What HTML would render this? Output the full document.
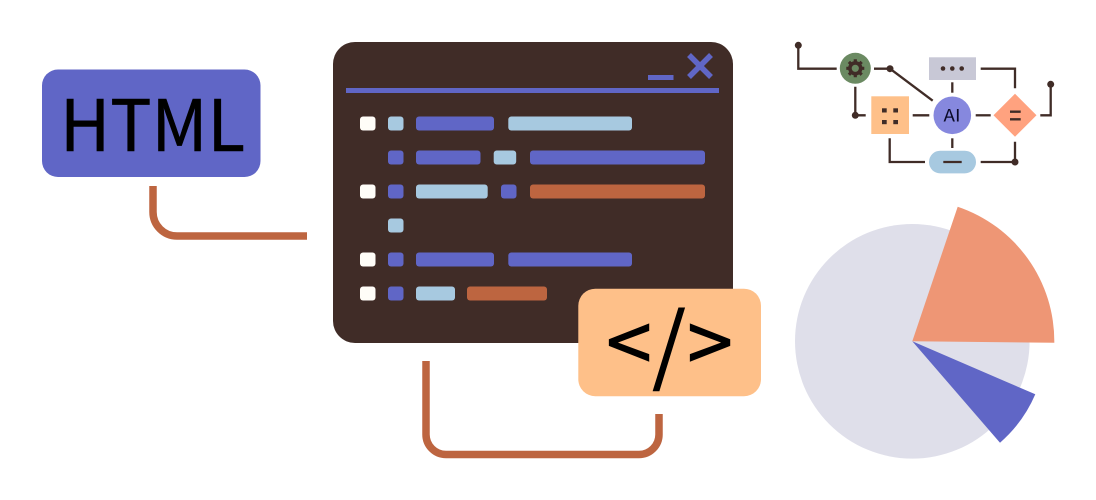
<!DOCTYPE html>
<html><head><meta charset="utf-8"><style>
html,body{margin:0;padding:0;background:#fff}
svg{display:block}
</style></head><body>
<svg width="1096" height="500" viewBox="0 0 1096 500" xmlns="http://www.w3.org/2000/svg">
<!-- HTML box -->
<path d="M153 186V212A24 24 0 0 0 177 236H307" fill="none" stroke="#bd6540" stroke-width="7.500"/>
<rect x="42" y="69.500" width="218.500" height="107.500" rx="16" fill="#6066c6"/>
<text x="60" y="151" font-family="'Noto Sans CJK JP','DejaVu Sans',sans-serif" font-size="71" fill="#000" stroke="#000" stroke-width="0.600" textLength="185" lengthAdjust="spacingAndGlyphs">HTML</text>
<!-- Window -->
<rect x="333" y="42" width="400" height="301" rx="22" fill="#402c27"/>
<rect x="346" y="88" width="373" height="5" fill="#6066c6"/>
<rect x="648" y="75" width="25.500" height="5" fill="#6066c6"/>
<path d="M689 55L711 77M711 55L689 77" stroke="#6066c6" stroke-width="5.500" fill="none"/>
<g>
<rect x="360" y="116.500" width="15.500" height="14" rx="3" fill="#fffdf8"/>
<rect x="388" y="116.500" width="15.500" height="14" rx="3" fill="#a7c9e0"/>
<rect x="416" y="116.500" width="78" height="14" rx="3" fill="#6066c6"/>
<rect x="508.300" y="116.500" width="123.700" height="14" rx="3" fill="#a7c9e0"/>

<rect x="388" y="150.500" width="15.500" height="14" rx="3" fill="#6066c6"/>
<rect x="416" y="150.500" width="64.500" height="14" rx="3" fill="#6066c6"/>
<rect x="493.700" y="150.500" width="22.500" height="14" rx="3" fill="#a7c9e0"/>
<rect x="530" y="150.500" width="175" height="14" rx="3" fill="#6066c6"/>

<rect x="360" y="184.500" width="15.500" height="14" rx="3" fill="#fffdf8"/>
<rect x="388" y="184.500" width="15.500" height="14" rx="3" fill="#6066c6"/>
<rect x="416" y="184.500" width="71.700" height="14" rx="3" fill="#a7c9e0"/>
<rect x="501" y="184.500" width="15.500" height="14" rx="3" fill="#6066c6"/>
<rect x="530" y="184.500" width="175" height="14" rx="3" fill="#bd6540"/>

<rect x="388" y="218.500" width="15.500" height="14" rx="3" fill="#a7c9e0"/>

<rect x="360" y="252.500" width="15.500" height="14" rx="3" fill="#fffdf8"/>
<rect x="388" y="252.500" width="15.500" height="14" rx="3" fill="#6066c6"/>
<rect x="416" y="252.500" width="78" height="14" rx="3" fill="#6066c6"/>
<rect x="508.300" y="252.500" width="123.700" height="14" rx="3" fill="#6066c6"/>

<rect x="360" y="286.500" width="15.500" height="14" rx="3" fill="#fffdf8"/>
<rect x="388" y="286.500" width="15.500" height="14" rx="3" fill="#6066c6"/>
<rect x="416" y="286.500" width="39" height="14" rx="3" fill="#a7c9e0"/>
<rect x="467" y="286.500" width="80" height="14" rx="3" fill="#bd6540"/>
</g>
<!-- Code box -->
<path d="M426 361V434.500A20 20 0 0 0 446 454.500H639A20 20 0 0 0 659 434.500V414" fill="none" stroke="#bd6540" stroke-width="7.500"/>
<rect x="578.300" y="288.700" width="182.700" height="107.500" rx="17" fill="#fec089"/>
<g font-family="'Noto Sans CJK JP','DejaVu Sans',sans-serif" fill="#000" stroke="#000" stroke-width="1" text-anchor="middle">
<text x="629" y="373" font-size="82">&lt;</text>
<text x="669" y="375.500" font-size="85">/</text>
<text x="710" y="373" font-size="82">&gt;</text>
</g>
<!-- Pie -->
<circle cx="912.300" cy="341.300" r="117.300" fill="#dfdfea"/>
<path d="M912.300 341.300L957.700 206.700A142 142 0 0 1 1054.300 342.700Z" fill="#ee9675"/>
<path d="M912.300 341.300L1035.300 394.300A134 134 0 0 1 1000 442.700Z" fill="#6066c6"/>
<!-- Small diagram -->
<g fill="none" stroke="#402c27" stroke-width="2.300">
<path d="M798.300 45.300V68.700H836.700"/>
<path d="M874 68.700H890L932.700 100.700"/>
<path d="M855.300 86.700V115.300H865.700"/>
<path d="M912.700 115.300H929.300"/>
<path d="M975.700 115.300H990.700"/>
<path d="M1040.300 115.300H1050.700V84.300"/>
<path d="M952.300 82.300V92.700"/>
<path d="M980.700 68.700H1015V88.300"/>
<path d="M952.300 138.300V148"/>
<path d="M889.700 138.300V162H925"/>
<path d="M980.700 162H1015V141.700"/>
</g>
<g fill="#402c27">
<circle cx="798.300" cy="45.300" r="3.500"/>
<circle cx="890" cy="68.700" r="3.500"/>
<circle cx="855.300" cy="115.300" r="3.500"/>
<circle cx="1050.700" cy="84.300" r="3.500"/>
<circle cx="1015" cy="162" r="3.500"/>
</g>
<circle cx="855.300" cy="68.300" r="15.500" fill="#6b8a62"/>
<circle cx="855.300" cy="68.300" r="5.400" fill="none" stroke="#402c27" stroke-width="3.600"/>
<g stroke="#402c27" stroke-width="3.200" fill="none">
<path d="M855.300 59.300V62M855.300 74.600V77.300M846.300 68.300H849M861.600 68.300H864.300M848.900 61.900L850.800 63.800M859.800 72.800L861.700 74.700M861.700 61.900L859.800 63.800M850.800 72.800L848.900 74.700"/>
</g>
<rect x="871.300" y="96.300" width="37.700" height="37.700" fill="#fec089"/>
<g fill="#402c27">
<rect x="882" y="108.300" width="4.700" height="4.200"/>
<rect x="893.300" y="108.300" width="4.700" height="4.200"/>
<rect x="882" y="120" width="4.700" height="4.200"/>
<rect x="893.300" y="120" width="4.700" height="4.200"/>
</g>
<circle cx="952.300" cy="115.300" r="18.800" fill="#8688de"/>
<text x="943.500" y="121.600" font-family="'Noto Sans CJK JP','DejaVu Sans',sans-serif" font-size="17" fill="#0a0a28" textLength="17" lengthAdjust="spacingAndGlyphs">AI</text>
<path d="M1015 93.800L1036.500 115.300L1015 136.800L993.500 115.300Z" fill="#ffa27f"/>
<path d="M1010 111.700H1020.700M1010 119.300H1020.700" stroke="#402c27" stroke-width="2.300"/>
<rect x="929" y="57.300" width="47" height="22.700" fill="#c8c8d6"/>
<g fill="#402c27">
<circle cx="943" cy="68.500" r="2.300"/>
<circle cx="952.300" cy="68.500" r="2.300"/>
<circle cx="961.700" cy="68.500" r="2.300"/>
</g>
<rect x="929" y="150.700" width="47" height="22.700" rx="11.300" fill="#a7c9e0"/>
<path d="M943.300 162H961.700" stroke="#402c27" stroke-width="2.300"/>
</svg>
</body></html>
